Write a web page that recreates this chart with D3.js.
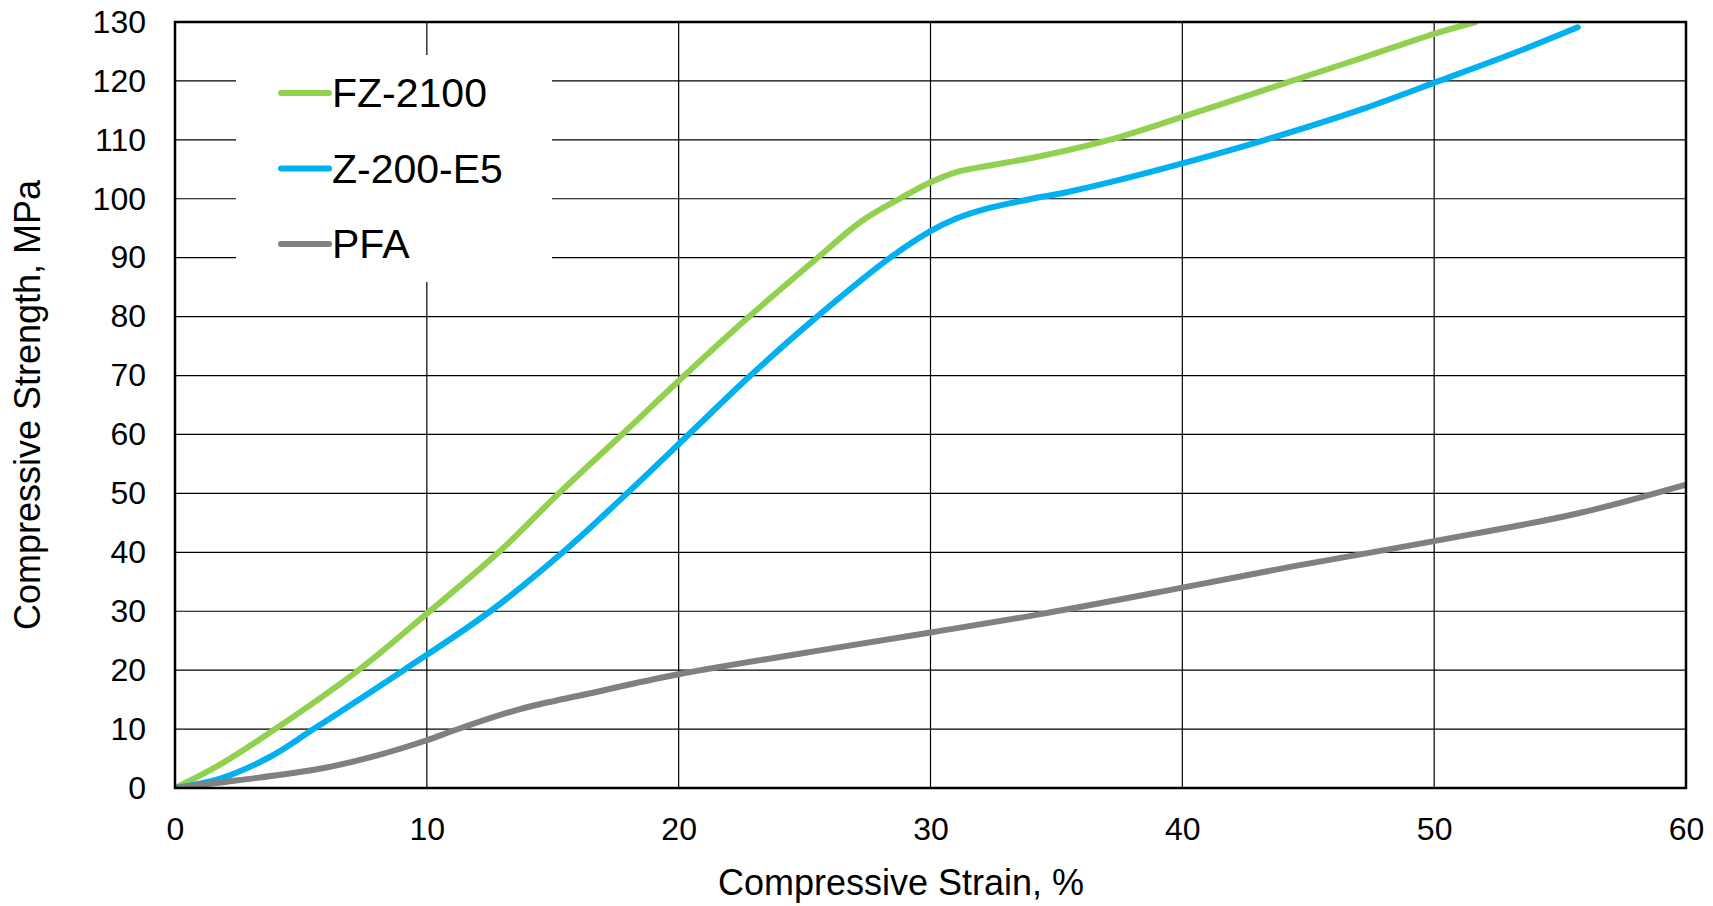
<!DOCTYPE html>
<html>
<head>
<meta charset="utf-8">
<script src="https://cdn.jsdelivr.net/npm/d3@7"></script>
<style>
body { margin: 0; background: #fff; }
text { font-family: "Liberation Sans", Arial, sans-serif; fill: #000; }
</style>
</head>
<body>
<svg width="1713" height="906"></svg>
<script>
// values
var seriesNames = ["FZ-2100", "Z-200-E5", "PFA"];
var seriesColors = ["#92D050", "#00B0F0", "#808080"];

var fzStrain = [0, 1.8, 3.98, 7.29, 10, 12.85, 15.24, 17.75, 20.23, 22.8, 25.52, 27.3, 28.77, 30, 31, 32.3, 34.1, 37.1, 40, 44.35, 47.2, 50, 51.65];
var fzStress = [0, 4, 10, 20, 29.6, 40, 50, 60, 70, 80, 90, 96.3, 100, 102.8, 104.5, 105.6, 107, 110, 113.9, 120, 124, 128, 130];

var zStrain = [0, 1.8, 3.78, 5.5, 9.08, 12.52, 15.4, 17.95, 20.4, 22.85, 25.5, 28.4, 30, 31, 32.3, 33.8, 35.5, 37.5, 40, 43.3, 47.2, 50.2, 53.1, 55.7];
var zStress = [0, 1.6, 5.3, 10, 20, 30, 40, 50, 60, 70, 80, 90, 94.5, 96.6, 98.4, 99.8, 101.2, 103.2, 106, 110, 115.3, 120, 124.6, 129.1];

var pfaStrain = [0, 2.5, 5.8, 8, 10, 11.1, 13.7, 16.4, 20, 25.1, 30, 34.5, 40, 44.5, 50, 55.6, 60];
var pfaStress = [0, 1.3, 3.3, 5.5, 8.1, 9.8, 13.4, 16, 19.3, 23, 26.4, 29.6, 34, 37.7, 41.9, 46.5, 51.5];

var xTicks = [0, 10, 20, 30, 40, 50, 60];
var yTicks = [0, 10, 20, 30, 40, 50, 60, 70, 80, 90, 100, 110, 120, 130];

function drawChart(){
	var svg = d3.select("svg");
	var pLeft = 175, pRight = 1686, pTop = 22, pBottom = 788;

	var x = d3.scaleLinear().domain([0, 60]).range([pLeft, pRight]);
	var y = d3.scaleLinear().domain([0, 130]).range([pBottom, pTop]);

	function pairs(xs, ys) {
		return xs.map(function(v, i){ return [v, ys[i]]; });
	}
	var series = [pairs(fzStrain, fzStress), pairs(zStrain, zStress), pairs(pfaStrain, pfaStress)];

	// grid
	svg.append("g").selectAll("line").data(yTicks)
		.enter().append("line")
		.attr("x1", pLeft).attr("x2", pRight)
		.attr("y1", function(d){ return y(d); }).attr("y2", function(d){ return y(d); })
		.attr("stroke", "#000").attr("stroke-width", 1.2);
	svg.append("g").selectAll("line").data(xTicks)
		.enter().append("line")
		.attr("y1", pTop).attr("y2", pBottom)
		.attr("x1", function(d){ return x(d); }).attr("x2", function(d){ return x(d); })
		.attr("stroke", "#000").attr("stroke-width", 1.2);

	// legend box hides the grid behind it
	svg.append("rect").attr("x", 236).attr("y", 55).attr("width", 316).attr("height", 227).attr("fill", "#fff");

	// axes
	var xAxis = d3.axisBottom(x).tickValues(xTicks).tickSize(0).tickPadding(29);
	var yAxis = d3.axisLeft(y).tickValues(yTicks).tickSize(0).tickPadding(29);
	svg.append("g").attr("transform", "translate(0," + pBottom + ")").call(xAxis)
		.attr("font-size", 32).attr("font-family", "Liberation Sans, Arial, sans-serif")
		.call(function(g){ g.select(".domain").remove(); });
	svg.append("g").attr("transform", "translate(" + pLeft + ",0)").call(yAxis)
		.attr("font-size", 32).attr("font-family", "Liberation Sans, Arial, sans-serif")
		.call(function(g){ g.select(".domain").remove(); });

	// curves
	svg.append("clipPath").attr("id", "plotclip")
		.append("rect").attr("x", pLeft).attr("y", pTop).attr("width", pRight - pLeft).attr("height", pBottom - pTop);

	var line = d3.line()
		.x(function(d){ return x(d[0]); })
		.y(function(d){ return y(d[1]); })
		.curve(d3.curveCatmullRom.alpha(0.5));

	svg.append("g").attr("clip-path", "url(#plotclip)")
		.selectAll("path").data(series)
		.enter().append("path")
		.attr("d", line)
		.attr("fill", "none")
		.attr("stroke", function(d, i){ return seriesColors[i]; })
		.attr("stroke-width", 6)
		.attr("stroke-linecap", "round")
		.attr("stroke-linejoin", "round");

	// plot frame
	svg.append("rect").attr("x", pLeft).attr("y", pTop).attr("width", pRight - pLeft).attr("height", pBottom - pTop)
		.attr("fill", "none").attr("stroke", "#000").attr("stroke-width", 2.5);

	// legend
	var legend = svg.append("g").selectAll("g").data(seriesNames)
		.enter().append("g")
		.attr("transform", function(d, i){ return "translate(281," + (93 + i * 75.5) + ")"; });
	legend.append("line").attr("x1", 0).attr("x2", 48)
		.attr("stroke", function(d, i){ return seriesColors[i]; })
		.attr("stroke-width", 6).attr("stroke-linecap", "round");
	legend.append("text").attr("x", 51).attr("y", 14)
		.style("font-size", "41px")
		.text(function(d){ return d; });

	// axis titles
	svg.append("text").attr("x", 901).attr("y", 895)
		.attr("text-anchor", "middle").style("font-size", "36px")
		.text("Compressive Strain, %");
	svg.append("text").attr("transform", "translate(40,405) rotate(-90)")
		.attr("text-anchor", "middle").style("font-size", "36px")
		.text("Compressive Strength, MPa");
}
drawChart();
</script>
</body>
</html>
